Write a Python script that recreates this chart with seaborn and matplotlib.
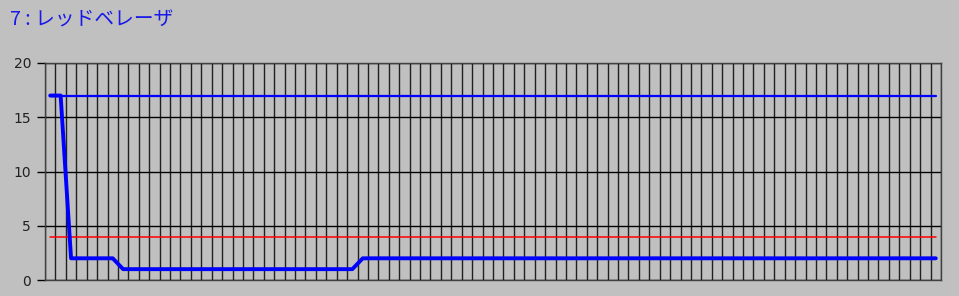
import numpy as np
import pandas as pd
import matplotlib
matplotlib.use("Agg")
import matplotlib.pyplot as plt
import seaborn as sns

# ---- data ----
title = "7 : レッドベレーザ"
positions = [k + 0.5 for k in range(86)]
main_values = [17, 17] + [2] * 5 + [1] * 23 + [2] * 56
upper_values = [17] * 86
red_values = [4] * 86
y_ticks = [0, 5, 10, 15, 20]
n_cols = 86

sns.set_theme(style="white")
plt.rcParams['font.family'] = ['Noto Sans CJK JP', 'DejaVu Sans']

bg = "#C0C0C0"
fig = plt.figure(figsize=(9.59, 2.96), dpi=100, facecolor=bg)
ax = fig.add_axes([45 / 959, 16 / 296, 896 / 959, 217 / 296])
ax.set_facecolor(bg)

df = pd.DataFrame({"x": positions, "main": main_values,
                   "upper": upper_values, "red": red_values})

sns.lineplot(data=df, x="x", y="red", ax=ax, color="#FF0000", linewidth=1.1, zorder=3)
sns.lineplot(data=df, x="x", y="upper", ax=ax, color="#0000FF", linewidth=1.6, zorder=4)
sns.lineplot(data=df, x="x", y="main", ax=ax, color="#0000FF", linewidth=2.8, zorder=5)

ax.set_xlim(0, n_cols)
ax.set_ylim(0, 20)
ax.set_xticks(np.arange(0, n_cols + 1))
ax.set_yticks(y_ticks)
ax.set_xticklabels([])
ax.set_yticklabels([str(t) for t in y_ticks], fontsize=10, color="#202020",
                   family=['DejaVu Sans'])
ax.tick_params(axis='x', length=0)
ax.tick_params(axis='y', length=6, width=1, color="#000000", pad=4, left=True)
ax.grid(True, axis='x', color="#202020", linewidth=1.0)
ax.grid(True, axis='y', color="#000000", linewidth=1.0)
ax.set_axisbelow(True)
for s in ax.spines.values():
    s.set_visible(True)
    s.set_color("#404040")
    s.set_linewidth(1.0)
ax.set_xlabel("")
ax.set_ylabel("")

fig.text(10 / 959, 1 - 20 / 296, title, color="#1818E8", fontsize=14.2,
         ha="left", va="center")

fig.savefig("out.png", dpi=100, facecolor=bg)
